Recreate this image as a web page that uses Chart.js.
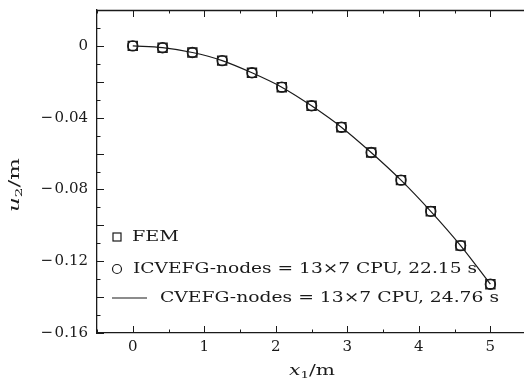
<!DOCTYPE html>
<html>
<head>
<meta charset="utf-8">
<script src="https://cdn.jsdelivr.net/npm/chart.js@4.4.1/dist/chart.umd.min.js"></script>
<style>
  html, body { margin: 0; padding: 0; background: #fff; overflow: hidden; }
  #wrap { width: 524px; height: 381px; position: relative; }
</style>
</head>
<body>
<div id="wrap"><canvas id="beamChart"></canvas></div>
<script>
// values
const xNodes = [0, 0.4167, 0.8333, 1.25, 1.6667, 2.0833, 2.5, 2.9167, 3.3333, 3.75, 4.1667, 4.5833, 5];
const femU2 = [0, -0.0010, -0.0037, -0.0082, -0.0150, -0.0230, -0.0334, -0.0453, -0.0594, -0.0748, -0.0922, -0.1113, -0.1328];
const icvefgU2 = [0, -0.0010, -0.0037, -0.0082, -0.0150, -0.0230, -0.0334, -0.0453, -0.0594, -0.0748, -0.0922, -0.1113, -0.1328];
const cvefgU2 = [0, -0.0010, -0.0037, -0.0082, -0.0150, -0.0230, -0.0334, -0.0453, -0.0594, -0.0748, -0.0922, -0.1113, -0.1328];
const xTickLabels = [0, 1, 2, 3, 4, 5];
const yTickLabels = [0, -0.04, -0.08, -0.12, -0.16];
const legendLabels = ['FEM', 'ICVEFG-nodes = 13\u00d77 CPU, 22.15 s', 'CVEFG-nodes = 13\u00d77 CPU, 24.76 s'];

const SERIF = '"DejaVu Serif", "Liberation Serif", serif';
const INK = '#1a1a1a';

function pts(ys) {
    return xNodes.map((x, i) => ({ x: x, y: ys[i] }));
}

function minusSign(v) {
    if (v === 0) return '0';
    return '\u2212\u200a' + Math.abs(v).toFixed(2);
}

// draw text stretched to a given width (the source picture is wide-set)
function wideText(ctx, txt, x, y, width) {
    const w = ctx.measureText(txt).width;
    ctx.save();
    ctx.translate(x, y);
    ctx.scale(width / w, 1);
    ctx.fillText(txt, 0, 0);
    ctx.restore();
}

// inward ticks, top border, axis titles and the legend
const decorPlugin = {
    id: 'decor',
    afterDraw(chart) {
        const ctx = chart.ctx;
        const area = chart.chartArea;
        const xs = chart.scales.x;
        const ys = chart.scales.y;
        ctx.save();
        ctx.strokeStyle = INK;
        ctx.lineWidth = 1.3;

        // top border
        ctx.beginPath();
        ctx.moveTo(area.left, area.top + 0.5);
        ctx.lineTo(area.right, area.top + 0.5);
        ctx.stroke();

        ctx.lineWidth = 1;
        // x ticks every 0.5, long on integers
        for (let v = -0.5; v <= xs.max + 1e-9; v += 0.5) {
            const px = Math.round(xs.getPixelForValue(v)) + 0.5;
            const len = Number.isInteger(v) ? 7 : 3.5;
            ctx.beginPath();
            ctx.moveTo(px, area.bottom);
            ctx.lineTo(px, area.bottom - len);
            ctx.moveTo(px, area.top);
            ctx.lineTo(px, area.top + len);
            ctx.stroke();
        }
        // y ticks every 0.01, long every 0.02
        for (let k = -16; k <= 2; k++) {
            const py = Math.round(ys.getPixelForValue(k / 100)) + 0.5;
            const len = (k % 2 === 0) ? 7 : 3.5;
            ctx.beginPath();
            ctx.moveTo(area.left, py);
            ctx.lineTo(area.left + len, py);
            ctx.stroke();
        }

        // axis titles
        ctx.fillStyle = INK;
        ctx.textBaseline = 'alphabetic';
        function mathTitle(sym, sub, target) {
            const parts = [
                { t: sym, f: 'italic 15px ' + SERIF, dy: 0 },
                { t: sub, f: '10px ' + SERIF, dy: 3 },
                { t: '/m', f: '15px ' + SERIF, dy: 0 }
            ];
            let w = 0;
            parts.forEach(p => { ctx.font = p.f; p.w = ctx.measureText(p.t).width; w += p.w; });
            const k = target / w;
            ctx.scale(k, 1);
            let x = -w / 2;
            parts.forEach(p => { ctx.font = p.f; ctx.fillText(p.t, x, p.dy); x += p.w; });
        }
        ctx.save();
        ctx.translate(312, 375);
        mathTitle('x', '1', 46);
        ctx.restore();
        ctx.save();
        ctx.translate(19, 185);
        ctx.rotate(-Math.PI / 2);
        mathTitle('u', '2', 54);
        ctx.restore();

        // legend inside the plot
        const lx = area.left + 20;
        const rows = [237, 269, 298];
        ctx.lineWidth = 1.2;
        ctx.strokeRect(lx - 4, rows[0] - 4, 8, 8);
        ctx.beginPath();
        ctx.arc(lx, rows[1], 4.5, 0, Math.PI * 2);
        ctx.stroke();
        ctx.beginPath();
        ctx.moveTo(lx - 5, rows[2]);
        ctx.lineTo(lx + 30, rows[2]);
        ctx.stroke();
        ctx.font = '15px ' + SERIF;
        ctx.textBaseline = 'middle';
        wideText(ctx, legendLabels[0], 132, rows[0], 47);
        wideText(ctx, legendLabels[1], 133, rows[1], 344);
        wideText(ctx, legendLabels[2], 160, rows[2], 339);
        ctx.restore();
    }
};

const ctx = document.getElementById('beamChart').getContext('2d');
new Chart(ctx, {
    type: 'scatter',
    data: {
        datasets: [{
            label: legendLabels[2],
            data: pts(cvefgU2),
            showLine: true,
            borderColor: INK,
            borderWidth: 1.2,
            pointRadius: 0,
            cubicInterpolationMode: 'monotone',
            fill: false,
            order: 3
        }, {
            label: legendLabels[0],
            data: pts(femU2),
            pointStyle: 'rect',
            pointRadius: 6.4,
            borderColor: INK,
            borderWidth: 1.4,
            backgroundColor: 'rgba(0,0,0,0)',
            order: 2
        }, {
            label: legendLabels[1],
            data: pts(icvefgU2),
            pointStyle: 'circle',
            pointRadius: 5,
            borderColor: INK,
            borderWidth: 1.4,
            backgroundColor: 'rgba(0,0,0,0)',
            order: 1
        }]
    },
    options: {
        responsive: true,
        maintainAspectRatio: false,
        animation: false,
        events: [],
        layout: { autoPadding: false, padding: { top: 10, right: 0, left: 0, bottom: 0 } },
        scales: {
            x: {
                type: 'linear',
                min: -0.5,
                max: 5.47,
                afterBuildTicks: s => { s.ticks = xTickLabels.map(v => ({ value: v })); },
                afterFit: s => { s.height = 48; s.paddingLeft = 0; s.paddingRight = 0; },
                grid: { drawOnChartArea: false, drawTicks: false },
                border: { color: INK, width: 1.3 },
                ticks: {
                    padding: 5,
                    color: INK,
                    font: { family: SERIF, size: 15 },
                    callback: v => String(v)
                }
            },
            y: {
                type: 'linear',
                min: -0.16,
                max: 0.02,
                afterBuildTicks: s => { s.ticks = yTickLabels.map(v => ({ value: v })); },
                afterFit: s => { s.width = 97; s.paddingTop = 0; s.paddingBottom = 0; },
                grid: { drawOnChartArea: false, drawTicks: false },
                border: { color: INK, width: 1.3 },
                ticks: {
                    padding: 9,
                    color: INK,
                    font: { family: SERIF, size: 15 },
                    callback: v => minusSign(v)
                }
            }
        },
        plugins: {
            legend: { display: false },
            tooltip: { enabled: false }
        }
    },
    plugins: [decorPlugin]
});
</script>
</body>
</html>
